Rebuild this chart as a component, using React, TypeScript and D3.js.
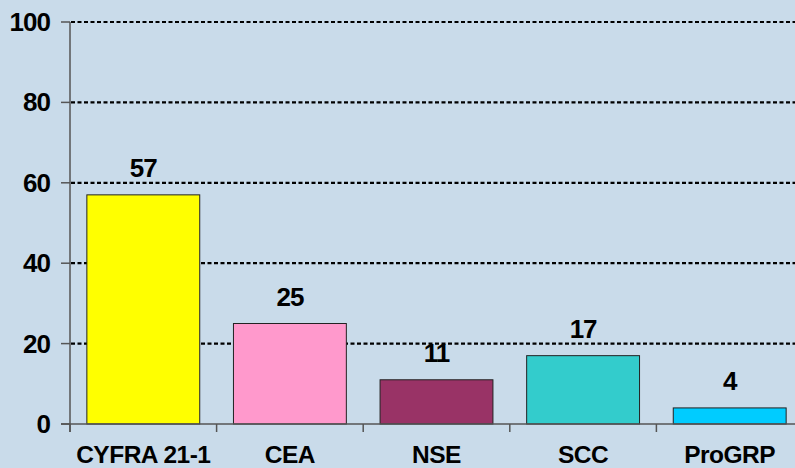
import React, { useEffect, useRef } from 'react';
import * as d3 from 'd3';

const categories = ['CYFRA 21-1', 'CEA', 'NSE', 'SCC', 'ProGRP'];
const values = [57, 25, 11, 17, 4];
const barColors = ['#ffff00', '#ff99cc', '#993366', '#33cccc', '#00ccff'];
const yTicks = [0, 20, 40, 60, 80, 100];

const App = () => {
  const svgRef = useRef<SVGSVGElement>(null);

  useEffect(() => {
    const width = 795;
    const height = 468;
    const left = 70;
    const top = 22;
    const bottom = 424;
    const right = 803; // plot runs slightly past the picture edge
    const font = '"Liberation Sans", Arial, sans-serif';

    const svg = d3.select(svgRef.current)
      .attr('width', width)
      .attr('height', height);
    svg.selectAll('*').remove();

    svg.append('rect')
      .attr('width', width)
      .attr('height', height)
      .attr('fill', '#c9dbea');

    const x = d3.scaleBand<string>()
      .domain(categories)
      .range([left, right])
      .paddingInner(0.23)
      .paddingOuter(0.115);

    const y = d3.scaleLinear()
      .domain([0, 100])
      .range([bottom, top]);

    // dotted gridlines
    svg.append('g')
      .selectAll('line')
      .data(yTicks.filter(d => d > 0))
      .enter().append('line')
      .attr('x1', left + 1)
      .attr('x2', width)
      .attr('y1', d => y(d))
      .attr('y2', d => y(d))
      .attr('stroke', '#000')
      .attr('stroke-width', 2.2)
      .attr('stroke-dasharray', '4 2.5');

    // bars
    svg.append('g')
      .selectAll('rect')
      .data(values)
      .enter().append('rect')
      .attr('x', (d, i) => x(categories[i])!)
      .attr('y', d => y(d))
      .attr('width', x.bandwidth())
      .attr('height', d => bottom - y(d))
      .attr('fill', (d, i) => barColors[i])
      .attr('stroke', '#222')
      .attr('stroke-width', 1);

    // value labels
    svg.append('g')
      .selectAll('text')
      .data(values)
      .enter().append('text')
      .attr('x', (d, i) => x(categories[i])! + x.bandwidth() / 2)
      .attr('y', d => y(d) - 18)
      .attr('text-anchor', 'middle')
      .style('font-family', font)
      .style('font-weight', 'bold')
      .style('font-size', '26px')
      .style('letter-spacing', '-1px')
      .attr('fill', '#000')
      .text(d => d);

    // y axis
    const axisColor = '#555';
    svg.append('line')
      .attr('x1', left).attr('x2', left)
      .attr('y1', top).attr('y2', bottom + 8)
      .attr('stroke', axisColor)
      .attr('stroke-width', 1.5);

    svg.append('g')
      .selectAll('line')
      .data(yTicks)
      .enter().append('line')
      .attr('x1', left - 9)
      .attr('x2', left)
      .attr('y1', d => y(d))
      .attr('y2', d => y(d))
      .attr('stroke', axisColor)
      .attr('stroke-width', 1.5);

    svg.append('g')
      .selectAll('text')
      .data(yTicks)
      .enter().append('text')
      .attr('x', 50)
      .attr('y', d => y(d) + 9)
      .attr('text-anchor', 'end')
      .style('font-family', font)
      .style('font-weight', 'bold')
      .style('font-size', '26px')
      .style('letter-spacing', '-1px')
      .attr('fill', '#000')
      .text(d => d);

    // x axis
    svg.append('line')
      .attr('x1', left - 9).attr('x2', width)
      .attr('y1', bottom).attr('y2', bottom)
      .attr('stroke', axisColor)
      .attr('stroke-width', 1.5);

    const step = x.step();
    svg.append('g')
      .selectAll('line')
      .data(d3.range(categories.length + 1))
      .enter().append('line')
      .attr('x1', i => left + i * step)
      .attr('x2', i => left + i * step)
      .attr('y1', bottom)
      .attr('y2', bottom + 8)
      .attr('stroke', axisColor)
      .attr('stroke-width', 1.5);

    svg.append('g')
      .selectAll('text')
      .data(categories)
      .enter().append('text')
      .attr('x', d => x(d)! + x.bandwidth() / 2)
      .attr('y', 463)
      .attr('text-anchor', 'middle')
      .style('font-family', font)
      .style('font-weight', 'bold')
      .style('font-size', '24.5px')
      .style('letter-spacing', '-0.5px')
      .attr('fill', '#000')
      .text(d => d);
  }, []);

  return (
    <svg ref={svgRef} style={{ position: 'absolute', left: 0, top: 0, display: 'block' }}></svg>
  );
};

export default App;
